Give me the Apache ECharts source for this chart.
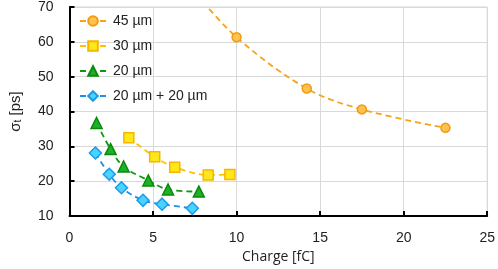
<!DOCTYPE html>
<html><head><meta charset="utf-8">
<script src="https://cdn.jsdelivr.net/npm/echarts@6/dist/echarts.min.js"></script>
<style>html,body{margin:0;padding:0;background:#fff}#c{width:498px;height:269px}</style>
</head><body><div id="c"></div>
<script>
const seriesNames = ['45 µm', '30 µm', '20 µm', '20 µm + 20 µm'];
const x45 = [7.2, 10.0, 14.2, 17.5, 22.5];
const y45 = [76.0, 61.3, 46.6, 40.6, 35.3];
const x30 = [3.55, 5.1, 6.3, 8.3, 9.6];
const y30 = [32.5, 27.0, 24.0, 21.8, 21.9];
const x20 = [1.62, 2.46, 3.24, 4.72, 5.9, 7.74];
const y20 = [36.7, 29.2, 24.2, 20.2, 17.6, 17.0];
const x2020 = [1.55, 2.38, 3.11, 4.4, 5.54, 7.35];
const y2020 = [28.1, 22.0, 18.1, 14.5, 13.4, 12.2];
const xTicks = [0, 5, 10, 15, 20, 25];
const yTicks = [10, 20, 30, 40, 50, 60, 70];

const pairs = (xs, ys) => xs.map((x, i) => [x, ys[i]]);
const styles = [
  {symbol: 'circle', size: 9, line: '#F7A21B', fill: '#FFC24D', border: '#F39A12'},
  {symbol: 'rect', size: 10, line: '#FFC000', fill: '#FFE81A', border: '#F7B500'},
  {symbol: 'triangle', size: 11, line: '#119A11', fill: '#1FB02A', border: '#0A8A0A'},
  {symbol: 'diamond', size: 12, line: '#1C8FF0', fill: '#49D3FF', border: '#1A9BEA'}
];
const datasets = [pairs(x45, y45), pairs(x30, y30), pairs(x20, y20), pairs(x2020, y2020)];

const chart = echarts.init(document.getElementById('c'), null, {renderer: 'canvas'});
chart.setOption({
  animation: false,
  backgroundColor: '#fff',
  textStyle: {fontFamily: 'Liberation Sans'},
  grid: {left: 66, right: 8, top: 5, bottom: 53, show: true, borderColor: '#d4d4d4', borderWidth: 1},
  legend: {
    left: 74, top: 9, orient: 'vertical', itemGap: 11, itemWidth: 26, itemHeight: 12,
    textStyle: {fontSize: 14, color: '#222', fontFamily: 'Liberation Sans', padding: [0, 0, 0, 2]},
    data: seriesNames
  },
  xAxis: {
    type: 'value', min: 0, max: 25, interval: 5,
    name: 'Charge [fC]', nameLocation: 'middle', nameGap: 32,
    nameTextStyle: {fontSize: 14, color: '#222', fontFamily: 'Open Sans'},
    axisLine: {onZero: false, lineStyle: {color: '#000', width: 2}},
    axisTick: {inside: true, length: 5, lineStyle: {color: '#000', width: 2}},
    axisLabel: {fontSize: 14, color: '#222', margin: 15},
    splitLine: {show: true, lineStyle: {color: '#d9d9d9', width: 1}}
  },
  yAxis: {
    type: 'value', min: 10, max: 70, interval: 10,
    name: 'σ{s|t} [ps]', nameLocation: 'middle', nameGap: 46, nameRotate: 90,
    nameTextStyle: {fontSize: 15, color: '#222', fontFamily: 'Liberation Sans',
      rich: {s: {fontSize: 10, color: '#222', verticalAlign: 'bottom', padding: [6, 0, 0, 0]}}},
    axisLine: {onZero: false, lineStyle: {color: '#000', width: 2}},
    axisTick: {inside: true, length: 5, lineStyle: {color: '#000', width: 2}},
    axisLabel: {fontSize: 14, color: '#222', margin: 16},
    splitLine: {show: true, lineStyle: {color: '#d9d9d9', width: 1}}
  },
  series: seriesNames.map((n, i) => ({
    name: n, type: 'line', smooth: 0.35, clip: true,
    data: datasets[i],
    symbol: styles[i].symbol, symbolSize: styles[i].size,
    lineStyle: {color: styles[i].line, width: 1.8, type: [6, 4]},
    itemStyle: {color: styles[i].fill, borderColor: styles[i].border, borderWidth: 1.5},
    z: 3 + i
  }))
});
</script></body></html>
